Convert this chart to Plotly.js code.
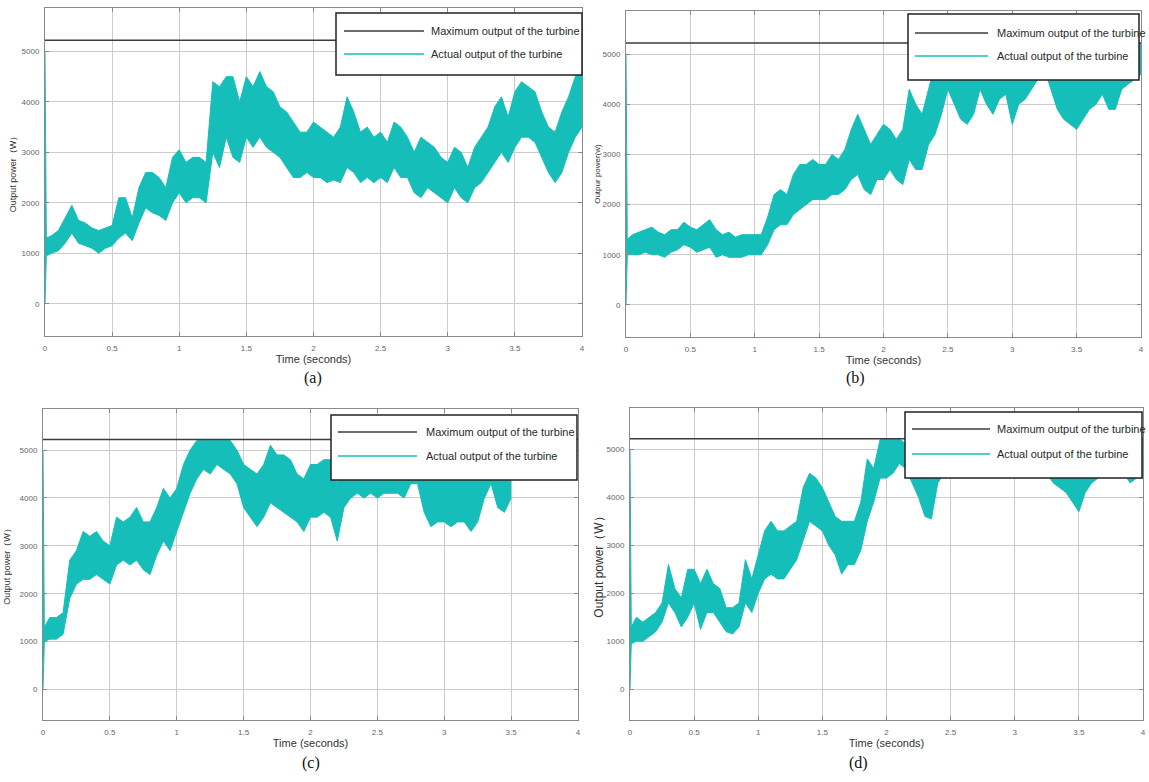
<!DOCTYPE html>
<html>
<head>
<meta charset="utf-8">
<script src="https://cdn.plot.ly/plotly-3.0.1.min.js"></script>
<style>
  html, body { margin: 0; padding: 0; background: #ffffff; }
  #chart { width: 1149px; height: 782px; }
</style>
</head>
<body>
<div id="chart"></div>
<script>
// ---------------- DATA ----------------
const timeSec = [
  0, 0.01, 0.05, 0.1, 0.15, 0.2, 0.25, 0.3, 0.35, 0.4,
  0.45, 0.5, 0.55, 0.6, 0.65, 0.7, 0.75, 0.8, 0.85, 0.9,
  0.95, 1.0, 1.05, 1.1, 1.15, 1.2, 1.25, 1.3, 1.35, 1.4,
  1.45, 1.5, 1.55, 1.6, 1.65, 1.7, 1.75, 1.8, 1.85, 1.9,
  1.95, 2.0, 2.05, 2.1, 2.15, 2.2, 2.25, 2.3, 2.35, 2.4,
  2.45, 2.5, 2.55, 2.6, 2.65, 2.7, 2.75, 2.8, 2.85, 2.9,
  2.95, 3.0, 3.05, 3.1, 3.15, 3.2, 3.25, 3.3, 3.35, 3.4,
  3.45, 3.5, 3.55, 3.6, 3.65, 3.7, 3.75, 3.8, 3.85, 3.9,
  3.95, 4.0
];

// (a) envelope of the actual output (W)
const lowerA = [
  0, 950, 1000, 1050, 1200, 1400, 1200, 1150, 1100, 1000,
  1100, 1150, 1300, 1400, 1250, 1600, 1900, 1800, 1750, 1650,
  2000, 2200, 2000, 2100, 2100, 2000, 3000, 2700, 3300, 2900,
  2800, 3300, 3100, 3300, 3100, 3000, 2900, 2700, 2500, 2500,
  2600, 2500, 2500, 2400, 2450, 2400, 2700, 2600, 2400, 2500,
  2400, 2500, 2400, 2700, 2500, 2500, 2200, 2100, 2300, 2200,
  2100, 2000, 2300, 2100, 2000, 2300, 2400, 2600, 2800, 3000,
  2800, 3100, 3300, 3300, 3200, 2900, 2600, 2400, 2600, 3000,
  3300, 3500
];
const upperA = [
  5000, 1300, 1350, 1450, 1700, 1950, 1650, 1600, 1500, 1450,
  1500, 1550, 2100, 2100, 1700, 2300, 2600, 2600, 2500, 2300,
  2900, 3050, 2800, 2900, 2900, 2800, 4400, 4300, 4500, 4500,
  4000, 4500, 4300, 4600, 4300, 4200, 3900, 3800, 3600, 3400,
  3400, 3600, 3500, 3400, 3300, 3500, 4100, 3800, 3400, 3500,
  3300, 3400, 3200, 3600, 3500, 3300, 3000, 3300, 3200, 3100,
  2900, 2800, 3100, 3000, 2700, 3100, 3300, 3500, 3900, 4100,
  3700, 4200, 4400, 4300, 4200, 3800, 3500, 3400, 3800, 4100,
  4500, 4700
];

// (b)
const lowerB = [
  0, 1000, 1000, 1000, 1050, 1000, 1000, 950, 1050, 1100,
  1200, 1150, 1050, 1100, 1150, 950, 1000, 950, 950, 950,
  1000, 1000, 1000, 1200, 1500, 1600, 1600, 1800, 1900, 2000,
  2100, 2100, 2100, 2200, 2200, 2300, 2500, 2600, 2300, 2200,
  2500, 2500, 2700, 2500, 2400, 2900, 2700, 2700, 3200, 3400,
  3800, 4300, 4000, 3700, 3600, 3800, 4300, 4000, 3800, 4100,
  4200, 3600, 4000, 4100, 4300, 4500, 4700, 4300, 3900, 3700,
  3600, 3500, 3700, 3900, 4000, 4200, 3900, 3900, 4300, 4400,
  4500, 4600
];
const upperB = [
  5000, 1300, 1400, 1450, 1500, 1550, 1450, 1400, 1500, 1500,
  1650, 1550, 1500, 1600, 1700, 1500, 1400, 1450, 1350, 1400,
  1400, 1400, 1400, 1750, 2200, 2300, 2200, 2600, 2800, 2800,
  2900, 2800, 2800, 3000, 2900, 3100, 3500, 3800, 3500, 3200,
  3400, 3600, 3500, 3300, 3500, 4300, 4000, 3800, 4300, 4800,
  5000, 5200, 5100, 5000, 5000, 5100, 5200, 5100, 5000, 5100,
  5200, 5000, 5100, 5100, 5200, 5200, 5200, 5200, 5100, 5000,
  5000, 4900, 5000, 5100, 5100, 5100, 5000, 5000, 5200, 5200,
  5200, 5220
];

// (c) — record ends at 3.5 s
const lowerC = [
  0, 1000, 1050, 1050, 1150, 1900, 2200, 2300, 2300, 2400,
  2300, 2200, 2600, 2700, 2600, 2700, 2500, 2400, 2800, 3100,
  2900, 3300, 3700, 4100, 4400, 4600, 4500, 4700, 4600, 4500,
  4300, 3800, 3600, 3400, 3600, 3900, 3800, 3700, 3600, 3500,
  3300, 3600, 3600, 3700, 3600, 3100, 3800, 4000, 4100, 4000,
  4100, 4000, 4100, 4100, 4100, 4000, 4300, 4300, 3700, 3400,
  3500, 3500, 3400, 3500, 3500, 3300, 3500, 4000, 4300, 3800,
  3700, 4000
];
const upperC = [
  5000, 1300, 1500, 1500, 1600, 2700, 2900, 3300, 3200, 3300,
  3100, 3000, 3600, 3500, 3600, 3800, 3500, 3500, 3800, 4200,
  4000, 4200, 4700, 5000, 5200, 5220, 5200, 5200, 5220, 5200,
  5000, 4700, 4600, 4500, 4700, 5100, 4900, 4900, 4800, 4500,
  4400, 4700, 4700, 4800, 4800, 4300, 5000, 5000, 5000, 4900,
  5000, 5000, 5000, 5000, 5000, 4900, 5000, 5100, 4900, 4800,
  4800, 4700, 4700, 4800, 4800, 4600, 4700, 5000, 5100, 4800,
  4700, 4800
];

// (d)
const lowerD = [
  0, 950, 1000, 1000, 1100, 1200, 1400, 1800, 1600, 1300,
  1500, 1800, 1250, 1600, 1600, 1400, 1200, 1150, 1300, 1800,
  1600, 2000, 2300, 2400, 2300, 2300, 2500, 2700, 3100, 3500,
  3400, 3300, 3000, 2800, 2400, 2600, 2600, 2900, 3500, 3900,
  4400, 4400, 4500, 4700, 4600, 4300, 4000, 3600, 3550, 4300,
  4500, 4500, 4500, 4500, 4500, 4500, 4500, 4500, 4500, 4500,
  4500, 4500, 4500, 4500, 4500, 4500, 4500, 4300, 4200, 4100,
  3900, 3700, 4100, 4300, 4400, 4500, 4500, 4500, 4500, 4300,
  4400, 4400
];
const upperD = [
  5000, 1300, 1500, 1400, 1500, 1600, 1800, 2600, 2100, 1900,
  2500, 2500, 2200, 2500, 2200, 2100, 1700, 1700, 1800, 2700,
  2300, 2800, 3300, 3500, 3300, 3300, 3400, 3500, 4200, 4500,
  4400, 4200, 3900, 3600, 3500, 3500, 3500, 3900, 4800, 4600,
  5200, 5220, 5200, 5220, 5100, 5000, 4900, 4800, 4700, 5000,
  5100, 5200, 5200, 5200, 5200, 5200, 5200, 5200, 5200, 5200,
  5200, 5200, 5200, 5200, 5200, 5200, 5200, 5100, 5000, 5000,
  4900, 4800, 5000, 5100, 5100, 5200, 5200, 5200, 5200, 5100,
  5200, 5200
];

const maxOutput = 5220;        // maximum output of the turbine (W)
const maxLineTime = [0, 4];
const seriesNames = ['Maximum output of the turbine', 'Actual output of the turbine'];
const yTickVals = [0, 1000, 2000, 3000, 4000, 5000];
const xTickVals = [0, 0.5, 1, 1.5, 2, 2.5, 3, 3.5, 4];
const xTickText = ['0', '0.5', '1', '1.5', '2', '2.5', '3', '3.5', '4'];
const yTitles = ['Output power\uFF08W\uFF09', 'Outpur power(w)', 'Output power\uFF08W\uFF09', 'Output power\uFF08W\uFF09'];
const captions = ['(a)', '(b)', '(c)', '(d)'];

// ---------------- LAYOUT / STYLE ----------------
const W = 1149, H = 782;
const px = v => v / W;
const py = v => 1 - v / H;

const CYAN = 'rgb(22,190,185)';
const MAXC = '#3c3c3c';

const panels = [
  { lower: lowerA, upper: upperA, n: 82, box: [45, 582, 8, 336], ytSize: 9, ytStand: 3,
    leg: [336, 582, 13, 75], legLine: [344, 424], legText: 429, legY: [31, 54], cap: [313, 378] },
  { lower: lowerB, upper: upperB, n: 82, box: [626, 1141, 11, 337], ytSize: 8, ytStand: 0,
    leg: [908, 1139, 14, 80], legLine: [915, 988], legText: 995, legY: [33, 56], cap: [855, 378] },
  { lower: lowerC, upper: upperC, n: 72, box: [43, 578, 409, 720], ytSize: 9, ytStand: 7,
    leg: [331, 577, 415, 480], legLine: [338, 417], legText: 424, legY: [432, 456], cap: [311, 763] },
  { lower: lowerD, upper: upperD, n: 82, box: [630, 1143, 408, 720], ytSize: 12, ytStand: 0,
    leg: [905, 1142, 412, 478], legLine: [912, 990], legText: 995, legY: [429, 454], cap: [858, 763] }
];

const data = [];
const layout = {
  width: W, height: H,
  margin: { l: 0, r: 0, t: 0, b: 0 },
  paper_bgcolor: '#ffffff',
  plot_bgcolor: '#ffffff',
  showlegend: false,
  font: { family: 'Liberation Sans, Arial, sans-serif', color: '#333' },
  shapes: [],
  annotations: []
};

panels.forEach((p, i) => {
  const k = i === 0 ? '' : String(i + 1);
  const xa = 'x' + k, ya = 'y' + k;
  const t = timeSec.slice(0, p.n);

  data.push({
    x: t, y: p.lower.slice(0, p.n), xaxis: xa, yaxis: ya, type: 'scatter', mode: 'lines',
    line: { color: CYAN, width: 1 }, name: seriesNames[1] + ' (lower)', hoverinfo: 'skip'
  });
  data.push({
    x: t, y: p.upper.slice(0, p.n), xaxis: xa, yaxis: ya, type: 'scatter', mode: 'lines',
    fill: 'tonexty', fillcolor: CYAN,
    line: { color: CYAN, width: 1 }, name: seriesNames[1], hoverinfo: 'skip'
  });
  data.push({
    x: maxLineTime, y: [maxOutput, maxOutput], xaxis: xa, yaxis: ya, type: 'scatter', mode: 'lines',
    line: { color: MAXC, width: 1.5 }, name: seriesNames[0], hoverinfo: 'skip'
  });

  const axCommon = {
    showline: true, linecolor: '#8a8a8a', linewidth: 1, mirror: 'ticks',
    showgrid: true, gridcolor: '#cccccc', gridwidth: 1,
    zeroline: false, ticks: 'inside', ticklen: 4, tickcolor: '#8a8a8a',
    tickfont: { family: 'Liberation Sans, Arial, sans-serif', size: 8, color: '#666' },
    fixedrange: true
  };
  layout['xaxis' + k] = Object.assign({}, axCommon, {
    domain: [px(p.box[0]), px(p.box[1])], anchor: ya,
    range: [0, 4], tickmode: 'array', tickvals: xTickVals, ticktext: xTickText,
    ticklabelstandoff: 4,
    title: { text: 'Time (seconds)', font: { size: 11, color: '#333' }, standoff: 3 }
  });
  layout['yaxis' + k] = Object.assign({}, axCommon, {
    domain: [py(p.box[3]), py(p.box[2])], anchor: xa,
    range: [-640, 5860], tickmode: 'array', tickvals: yTickVals,
    ticklabelstandoff: 3,
    title: { text: yTitles[i], font: { size: p.ytSize, color: '#333' }, standoff: p.ytStand }
  });

  // legend box
  layout.shapes.push({
    type: 'rect', xref: 'paper', yref: 'paper', layer: 'above',
    x0: px(p.leg[0]), x1: px(p.leg[1]), y0: py(p.leg[3]), y1: py(p.leg[2]),
    line: { color: '#222', width: 1.5 }, fillcolor: '#ffffff'
  });
  const legColors = [MAXC, CYAN];
  [0, 1].forEach(j => {
    layout.shapes.push({
      type: 'line', xref: 'paper', yref: 'paper', layer: 'above',
      x0: px(p.legLine[0]), x1: px(p.legLine[1]), y0: py(p.legY[j]), y1: py(p.legY[j]),
      line: { color: legColors[j], width: 1.5 }
    });
    layout.annotations.push({
      xref: 'paper', yref: 'paper', x: px(p.legText), y: py(p.legY[j]),
      xanchor: 'left', yanchor: 'middle', showarrow: false,
      text: seriesNames[j], font: { size: 11, color: '#2a2a2a', family: 'Liberation Sans, Arial, sans-serif' }
    });
  });
  // caption
  layout.annotations.push({
    xref: 'paper', yref: 'paper', x: px(p.cap[0]), y: py(p.cap[1]),
    xanchor: 'center', yanchor: 'middle', showarrow: false,
    text: captions[i], font: { size: 16, color: '#111', family: 'Liberation Serif, Times New Roman, serif' }
  });
});

Plotly.newPlot('chart', data, layout, { staticPlot: true, displayModeBar: false });
</script>
</body>
</html>
